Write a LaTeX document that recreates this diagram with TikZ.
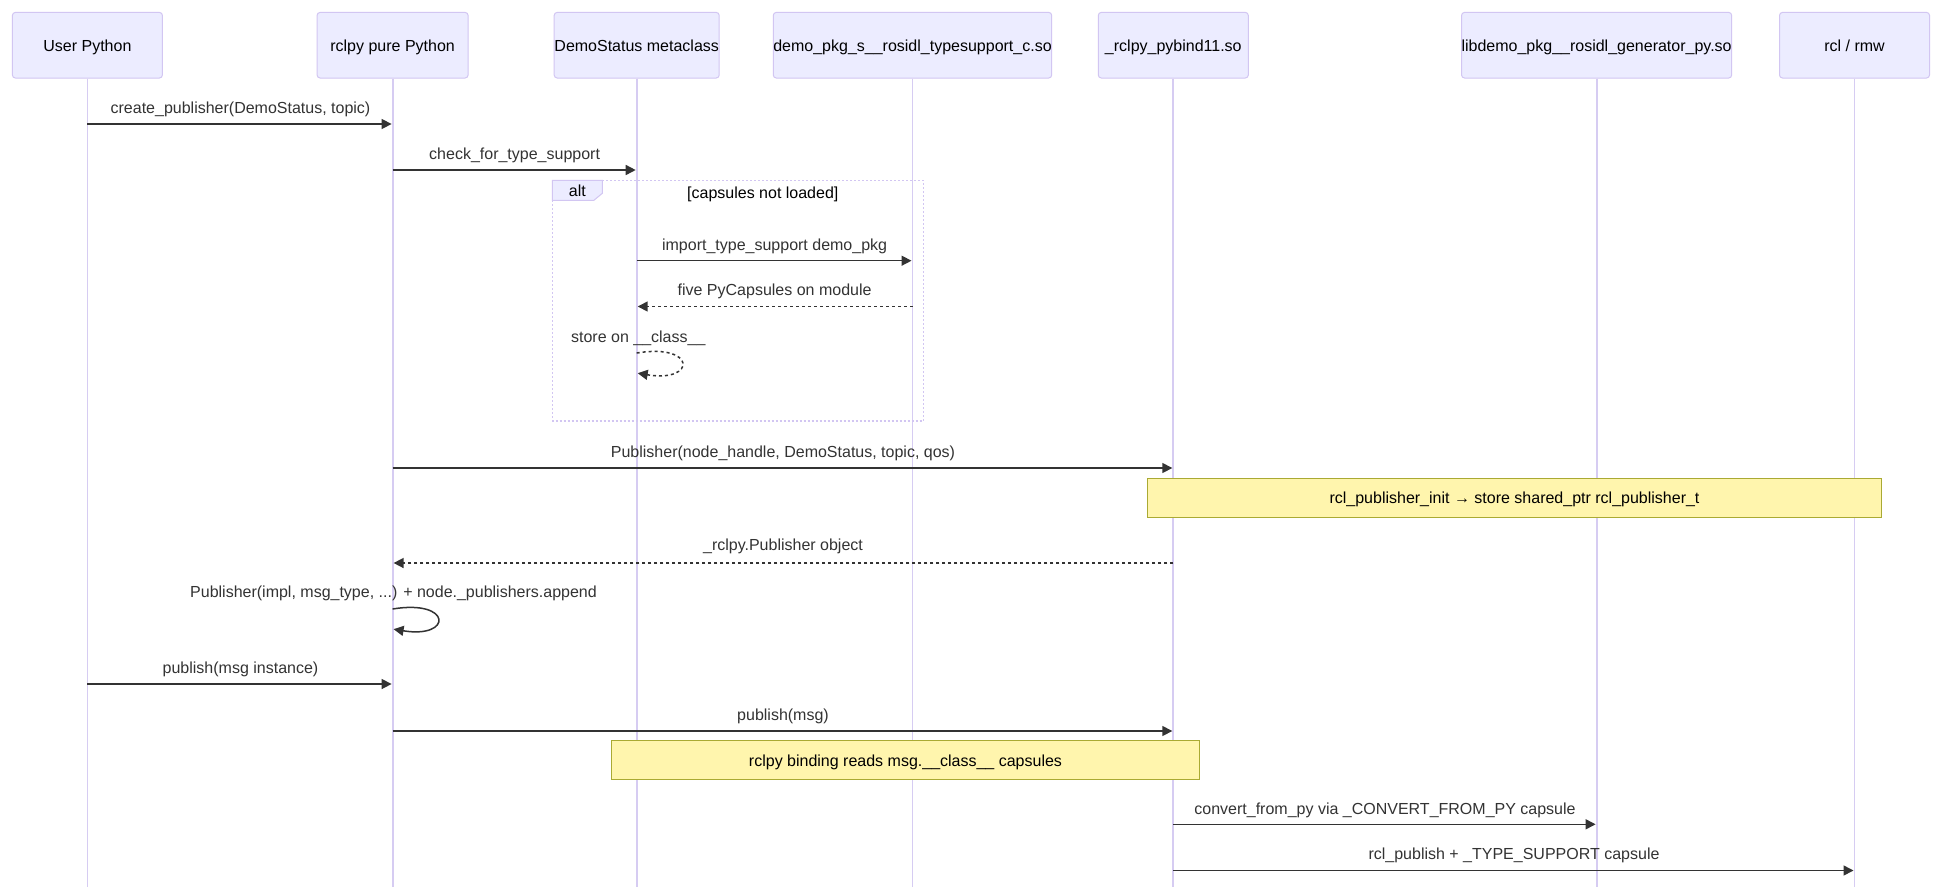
\documentclass[tikz,border=0pt]{standalone}
\usepackage{fontspec}
\setmainfont{Liberation Sans}
\usetikzlibrary{arrows.meta,calc}
\definecolor{actorfill}{HTML}{ECECFF}
\definecolor{actorborder}{HTML}{D2C6F2}
\definecolor{lifeln}{HTML}{D6CCF2}
\definecolor{msgcol}{HTML}{333333}
\definecolor{notefill}{HTML}{FFF5AD}
\definecolor{noteborder}{HTML}{AAAA33}
\begin{document}
\begin{tikzpicture}[x=1pt,y=-1pt,
  font=\fontsize{16}{19}\selectfont,
  actor/.style={draw=actorborder,fill=actorfill,line width=1pt,rounded corners=3pt,minimum height=65.6pt,inner sep=0pt,text=black,text height=13.5pt,text depth=1.4pt},
  lifeline/.style={draw=lifeln,line width=1.8pt},
  msg/.style={draw=msgcol,line width=1.5pt,-{Triangle[length=10pt,width=10pt]},shorten >=1pt},
  msgdash/.style={msg,dash pattern=on 3pt off 3pt},
  msgtxt/.style={text=msgcol,inner sep=0pt,text height=12.8pt,text depth=2.1pt,anchor=center},
  notebox/.style={draw=noteborder,fill=notefill,line width=1pt,inner sep=0pt,text=black,text height=13.5pt,text depth=1.4pt},
  altline/.style={draw=actorborder,line width=1.5pt,dash pattern=on 2pt off 2pt},
  alttab/.style={draw=actorborder,fill=actorfill,line width=1pt},
]
\useasboundingbox (0,0) rectangle (1943,887);
\fill[white] (0,0) rectangle (1943,887);
\coordinate (bot) at (0,887);

% actors
\node[actor,minimum width=150pt] (userpy) at (87.4,45.2) {User Python};
\node[actor,minimum width=151pt] (rclpy) at (392.6,45.2) {rclpy pure Python};
\node[actor,minimum width=165pt] (demo) at (636.7,45.2) {DemoStatus metaclass};
\node[actor,minimum width=271pt] (tsc) at (912.5,45.2) {demo\_pkg\_s\_\_rosidl\_typesupport\_c.so};
\node[actor,minimum width=150pt] (pyb) at (1173.3,45.2) {\_rclpy\_pybind11.so};
\node[actor,minimum width=267pt] (gen) at (1596.6,45.2) {libdemo\_pkg\_\_rosidl\_generator\_py.so};
\node[actor,minimum width=150pt] (rcl) at (1854.5,45.2) {rcl / rmw};

% lifelines
\foreach \a in {userpy,rclpy,demo,tsc,pyb,gen,rcl}
  \draw[lifeline] (\a.south) -- (\a.south |- bot);

% alt frame
\draw[altline] (552.3,180.3) rectangle (923.3,421);
\draw[alttab] (552.3,180.3) -- (602.3,180.3) -- (602.3,193.3) -- (593.9,200.3) -- (552.3,200.3) -- cycle;
\node[msgtxt,text=black] (altlbl) at (577.3,191.5) {alt};
\node[msgtxt,text=black] (altcond) at (762.8,193.5) {[capsules not loaded]};

% rows
\coordinate (r1) at (0,124);
\coordinate (r2) at (0,170);
\coordinate (r3) at (0,260.7);
\coordinate (r4) at (0,306.5);
\coordinate (r5) at (0,353);
\coordinate (r5e) at (0,373);
\coordinate (r6) at (0,468);
\coordinate (r8) at (0,563);
\coordinate (r9) at (0,609);
\coordinate (r9e) at (0,629);
\coordinate (r10) at (0,684);
\coordinate (r11) at (0,731);
\coordinate (r13) at (0,824.3);
\coordinate (r14) at (0,870.5);

% messages
\node[msgtxt] (t1) at (240.5,108) {create\_publisher(DemoStatus, topic)};
\draw[msg] (userpy |- r1) -- (rclpy |- r1);

\node[msgtxt] (t2) at (514.6,154) {check\_for\_type\_support};
\draw[msg] (rclpy |- r2) -- (demo |- r2);

\node[msgtxt] (t3) at (774.6,245) {import\_type\_support demo\_pkg};
\draw[msg] (demo |- r3) -- (tsc |- r3);

\node[msgtxt] (t4) at (774.6,290.3) {five PyCapsules on module};
\draw[msgdash] (tsc |- r4) -- (demo |- r4);

\node[msgtxt] (t5) at (638.3,336.7) {store on \_\_class\_\_};
\draw[msgdash] (demo |- r5) .. controls ($(demo |- r5)+(60,-10)$) and ($(demo |- r5)+(60,30)$) .. (demo |- r5e);

\node[msgtxt] (t6) at (783,452) {Publisher(node\_handle, DemoStatus, topic, qos)};
\draw[msg] (rclpy |- r6) -- (pyb |- r6);

\node[notebox,minimum width=734pt,minimum height=39pt] (n1) at (1514.5,497.5) {rcl\_publisher\_init → store shared\_ptr rcl\_publisher\_t};

\node[msgtxt] (t8) at (783,545.5) {\_rclpy.Publisher object};
\draw[msgdash] (pyb |- r8) -- (rclpy |- r8);

\node[msgtxt] (t9) at (393.5,592.3) {Publisher(impl, msg\_type, ...) + node.\_publishers.append};
\draw[msg] (rclpy |- r9) .. controls ($(rclpy |- r9)+(60,-10)$) and ($(rclpy |- r9)+(60,30)$) .. (rclpy |- r9e);

\node[msgtxt] (t10) at (240.5,668.5) {publish(msg instance)};
\draw[msg] (userpy |- r10) -- (rclpy |- r10);

\node[msgtxt] (t11) at (783,715) {publish(msg)};
\draw[msg] (rclpy |- r11) -- (pyb |- r11);

\node[notebox,minimum width=587.5pt,minimum height=38.5pt] (n2) at (905.5,760) {rclpy binding reads msg.\_\_class\_\_ capsules};

\node[msgtxt] (t13) at (1385,809) {convert\_from\_py via \_CONVERT\_FROM\_PY capsule};
\draw[msg] (pyb |- r13) -- (gen |- r13);

\node[msgtxt] (t14) at (1514,854.5) {rcl\_publish + \_TYPE\_SUPPORT capsule};
\draw[msg] (pyb |- r14) -- (rcl |- r14);
\end{tikzpicture}
\end{document}
